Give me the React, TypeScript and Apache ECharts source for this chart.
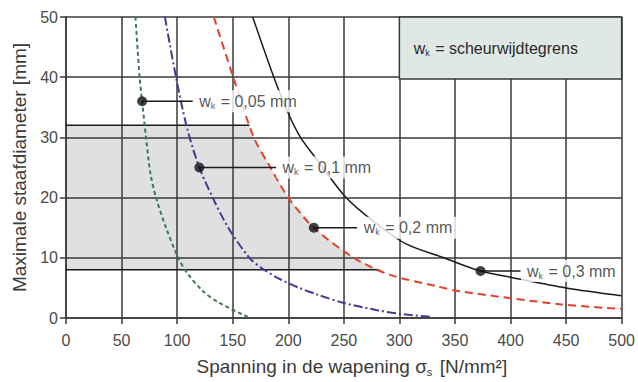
import React, { useEffect, useRef } from "react";
import * as echarts from "echarts";

const FONT = "'Liberation Sans', Arial, Helvetica, sans-serif";

// Axis ranges
const xRange = [0, 500];
const xStep = 50;
const yRange = [0, 50];
const yStep = 10;

// Curves (sigma_s [N/mm2], max diameter [mm])
const curveWk005 = [
  [62.5, 50], [66.2, 40], [68.5, 36], [72, 30], [76, 24], [81, 20], [90, 15],
  [101, 10], [109, 7.5], [123, 4.5], [138, 2.5], [163.5, 0.2],
];
const curveWk01 = [
  [89, 50], [99, 40], [109, 31.5], [120, 25], [132, 20], [146, 15], [165, 10],
  [176, 8.3], [192, 6.5], [210, 5], [226, 3.9], [250, 2.5], [280, 1.3], [300, 0.7], [328, 0.2],
];
const curveWk02 = [
  [133, 50], [150.5, 40], [169, 30], [184, 25], [200, 20], [223, 15],
  [259, 10], [291, 7.2], [333, 5.3], [354, 4.45], [444, 2.3], [500, 1.5],
];
const curveWk03 = [
  [168, 50], [187, 40], [200, 34], [211, 30], [225, 26.5], [252, 20], [277, 16],
  [306, 12.3], [340, 10], [373, 7.8], [402, 6.7], [450, 5.0], [500, 3.7],
];

// Annotations
const annotationValues = ["0,05", "0,1", "0,2", "0,3"];
const markerX = [68.5, 120, 223, 373];
const markerY = [36, 25, 15, 7.8];
const leaderEndX = [114, 189, 262, 409];

// Shaded zone
const shadeTop = 32;
const shadeBottom = 8;
const shadeTopEndX = 165;
const shadeBottomEndX = 282;

// Legend box
const legendBoxX = [300, 500];
const legendBoxY = [39.7, 50];
const legendText = "scheurwijdtegrens";

const GRID = "#3a3a3a";

export default function App() {
  const ref = useRef<HTMLDivElement>(null);

  useEffect(() => {
    document.body.style.margin = "0";
    const chart = echarts.init(ref.current!, null, { renderer: "svg" });

    const subRich = {
      w: { fontSize: 16, lineHeight: 18, color: "#2a2a2a", fontFamily: FONT, verticalAlign: "middle" },
      k: { fontSize: 9, lineHeight: 9, color: "#2a2a2a", fontFamily: FONT, verticalAlign: "bottom", padding: [8, 1, 0, 0] },
    };

    const shadeData: number[][] = [[xRange[0], shadeTop], [shadeTopEndX, shadeTop]];
    curveWk02.forEach((p) => {
      if (p[1] < shadeTop && p[1] > shadeBottom) shadeData.push(p);
    });
    shadeData.push([shadeBottomEndX, shadeBottom]);

    const curveSeries = (data: number[][], color: string, type: any, width: number, extra: any = {}) => ({
      type: "line",
      data,
      symbol: "none",
      smooth: 0.3,
      lineStyle: { color, width, type },
      z: 3,
      silent: true,
      ...extra,
    });

    const leaderSeries = markerX.map((mx, i) => ({
      type: "line",
      data: [[mx, markerY[i]], [leaderEndX[i], markerY[i]]],
      symbol: "none",
      lineStyle: { color: "#1a1a1a", width: 1.5 },
      z: 6,
      silent: true,
    }));

    const option: any = {
      animation: false,
      grid: { left: 66, top: 17, width: 556, height: 307, containLabel: false },
      xAxis: {
        type: "value",
        min: xRange[0],
        max: xRange[1],
        interval: xStep,
        axisLine: { show: true, lineStyle: { color: GRID, width: 1.5 } },
        axisTick: { show: true, length: 6, lineStyle: { color: GRID, width: 1.5 } },
        splitLine: { show: true, lineStyle: { color: GRID, width: 1.5 } },
        axisLabel: { color: "#4a4a4a", fontSize: 16, fontFamily: FONT, margin: 14 },
        name: "{t|Spanning in de wapening σ}{s|s}{t| [N/mm²]}",
        nameLocation: "middle",
        nameGap: 37,
        nameTextStyle: {
          padding: [0, 0, 0, 16],
          rich: {
            t: { fontSize: 19, lineHeight: 22, color: "#3a3a3a", fontFamily: FONT, verticalAlign: "middle" },
            s: { fontSize: 11, lineHeight: 11, color: "#3a3a3a", fontFamily: FONT, verticalAlign: "bottom", padding: [10, 2, 0, 0] },
          },
        },
      },
      yAxis: {
        type: "value",
        min: yRange[0],
        max: yRange[1],
        interval: yStep,
        axisLine: { show: true, lineStyle: { color: GRID, width: 1.5 } },
        axisTick: { show: true, length: 6, lineStyle: { color: GRID, width: 1.5 } },
        splitLine: { show: true, lineStyle: { color: GRID, width: 1.5 } },
        axisLabel: { color: "#4a4a4a", fontSize: 16, fontFamily: FONT, margin: 8 },
        name: "Maximale staafdiameter [mm]",
        nameLocation: "middle",
        nameGap: 34,
        nameTextStyle: { fontSize: 19, color: "#3a3a3a", fontFamily: FONT },
      },
      series: [
        {
          type: "line",
          data: shadeData,
          symbol: "none",
          lineStyle: { width: 0, opacity: 0 },
          areaStyle: { color: "#e1e0e0", opacity: 1, origin: shadeBottom },
          z: -1,
          silent: true,
        },
        {
          type: "line",
          data: [[xRange[0], shadeTop], [shadeTopEndX, shadeTop]],
          symbol: "none",
          lineStyle: { color: "#1a1a1a", width: 1.5 },
          z: 2,
          silent: true,
        },
        {
          type: "line",
          data: [[xRange[0], shadeBottom], [shadeBottomEndX, shadeBottom]],
          symbol: "none",
          lineStyle: { color: "#1a1a1a", width: 1.5 },
          z: 2,
          silent: true,
        },
        curveSeries(curveWk005, "#3d7a4e", [4, 3], 2),
        curveSeries(curveWk01, "#4b3596", [9, 3, 2, 3], 2),
        curveSeries(curveWk02, "#e4402b", [8, 5], 2),
        curveSeries(curveWk03, "#1a1a1a", "solid", 1.5, {
          markArea: {
            silent: true,
            itemStyle: { color: "#dfe8e5", borderColor: GRID, borderWidth: 1.5 },
            label: {
              show: true,
              position: "insideLeft",
              distance: 15,
              formatter: "{w|w}{k|k}{w| = " + legendText + "}",
              rich: subRich,
            },
            data: [[{ coord: [legendBoxX[0], legendBoxY[1]] }, { coord: [legendBoxX[1], legendBoxY[0]] }]],
          },
        }),
        ...leaderSeries,
        {
          type: "scatter",
          data: leaderEndX.map((x, i) => [x, markerY[i]]),
          symbol: "circle",
          symbolSize: 1,
          itemStyle: { color: "rgba(0,0,0,0)" },
          z: 10,
          zlevel: 0,
          silent: true,
          label: {
            show: true,
            position: "right",
            distance: 0,
            backgroundColor: "#ffffff",
            padding: [2, 4, 2, 6],
            formatter: (p: any) => "{w|w}{k|k}{w| = " + annotationValues[p.dataIndex] + " mm}",
            rich: subRich,
          },
        },
        {
          type: "scatter",
          data: markerX.map((x, i) => [x, markerY[i]]),
          symbol: "circle",
          symbolSize: 10,
          itemStyle: { color: "#111111" },
          z: 12,
          silent: true,
        },
      ],
    };

    chart.setOption(option);
    return () => chart.dispose();
  }, []);

  return <div ref={ref} style={{ width: 638, height: 382 }} />;
}
